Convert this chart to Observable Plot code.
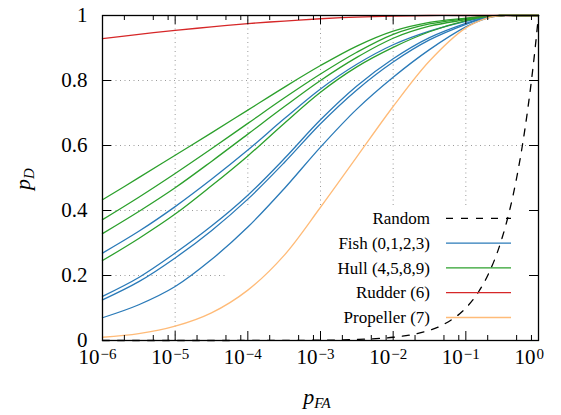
<!DOCTYPE html>
<html>
<head>
<meta charset="utf-8">
<script src="https://cdn.jsdelivr.net/npm/d3@7"></script>
<script src="https://cdn.jsdelivr.net/npm/@observablehq/plot@0.6"></script>
<style>
  html, body { margin: 0; padding: 0; background: white; }
  #chart { width: 561px; height: 415px; }
  #chart svg, #chart svg text { font-family: "Liberation Serif", "DejaVu Serif", serif !important; }
</style>
</head>
<body>
<div id="chart"></div>
<script>
// ---- data ----
const pfa = [1e-6, 3.16e-6, 1e-5, 3.16e-5, 1e-4, 3.16e-4, 1e-3, 3.16e-3, 1e-2, 3.16e-2, 1e-1, 0.2, 0.3, 0.5, 1];

const fish0 = [0.269, 0.336, 0.412, 0.496, 0.586, 0.682, 0.774, 0.850, 0.910, 0.952, 0.982, 0.996, 1, 1, 1];
const fish1 = [0.136, 0.194, 0.269, 0.352, 0.447, 0.559, 0.679, 0.783, 0.867, 0.932, 0.976, 0.995, 1, 1, 1];
const fish2 = [0.125, 0.181, 0.254, 0.338, 0.435, 0.547, 0.667, 0.771, 0.857, 0.925, 0.973, 0.995, 1, 1, 1];
const fish3 = [0.070, 0.110, 0.166, 0.249, 0.349, 0.467, 0.595, 0.712, 0.810, 0.895, 0.965, 0.993, 1, 1, 1];

const hull4 = [0.433, 0.501, 0.570, 0.639, 0.709, 0.779, 0.846, 0.906, 0.952, 0.979, 0.992, 0.999, 1, 1, 1];
const hull5 = [0.372, 0.441, 0.514, 0.590, 0.668, 0.746, 0.820, 0.887, 0.942, 0.974, 0.990, 0.998, 1, 1, 1];
const hull8 = [0.329, 0.397, 0.470, 0.551, 0.635, 0.719, 0.800, 0.871, 0.930, 0.967, 0.987, 0.998, 1, 1, 1];
const hull9 = [0.246, 0.314, 0.389, 0.476, 0.568, 0.668, 0.764, 0.842, 0.902, 0.950, 0.984, 0.997, 1, 1, 1];

const rudder6 = [0.929, 0.942, 0.954, 0.965, 0.975, 0.983, 0.990, 0.995, 0.998, 1, 1, 1, 1, 1, 1];
const propeller7 = [0.010, 0.021, 0.044, 0.085, 0.155, 0.262, 0.410, 0.565, 0.720, 0.860, 0.962, 0.993, 1, 1, 1];

const randomX = [1e-6, 1e-4, 1e-3, 3e-3, 1e-2, 2e-2, 5e-2, 0.1, 0.15, 0.2, 0.3, 0.4, 0.5, 0.6, 0.7, 0.8, 0.9, 1];
const randomY = [1e-6, 1e-4, 1e-3, 3e-3, 1e-2, 2e-2, 5e-2, 0.1, 0.15, 0.2, 0.3, 0.4, 0.5, 0.6, 0.7, 0.8, 0.9, 1];

const xTicks = [1e-6, 1e-5, 1e-4, 1e-3, 1e-2, 1e-1, 1];
const xTickExp = ["\u22126", "\u22125", "\u22124", "\u22123", "\u22122", "\u22121", "0"];
const xMinor = [2e-6, 5e-6, 8e-6, 2e-5, 5e-5, 8e-5, 2e-4, 5e-4, 8e-4, 2e-3, 5e-3, 8e-3, 2e-2, 5e-2, 8e-2, 2e-1, 5e-1, 8e-1];
const xGrid = [1e-5, 1e-4, 1e-3, 1e-2, 1e-1];
const yTicks = [0, 0.2, 0.4, 0.6, 0.8, 1];
const yTickLabels = ["0", "0.2", "0.4", "0.6", "0.8", "1"];
const yGrid = [0.2, 0.4, 0.6, 0.8];

const legendLabels = ["Random", "Fish (0,1,2,3)", "Hull (4,5,8,9)", "Rudder (6)", "Propeller (7)"];
const legendColors = ["#000000", "#2a7ab8", "#2ca02c", "#d62728", "#ffbb78"];

// area kept clear of grid lines behind the key (data units)
const keyArea = {x1: 5.4e-5, x2: 1, y1: 0, y2: 0.41};

// ---- build ----
const blue = legendColors[1], green = legendColors[2], red = legendColors[3], orange = legendColors[4];
const toRows = (ys) => pfa.map((x, i) => ({x, y: ys[i]}));
const randomRows = randomX.map((x, i) => ({x, y: randomY[i]}));

const lineOpts = (c) => ({x: "x", y: "y", stroke: c, strokeWidth: 1.3, curve: "catmull-rom"});
const grid = {stroke: "#9a9a9a", strokeWidth: 1, strokeDasharray: "1,3.5"};
const serif = "Liberation Serif, DejaVu Serif, serif";

const chart = Plot.plot({
  width: 561,
  height: 415,
  marginLeft: 102,
  marginRight: 23,
  marginTop: 15,
  marginBottom: 75,
  x: {type: "log", domain: [1e-6, 1], axis: null},
  y: {domain: [0, 1], axis: null},
  style: {fontFamily: serif, fontSize: "21px", background: "white", overflow: "visible"},
  marks: [
    Plot.ruleX(xGrid, {x: d => d, y1: 0, y2: 1, ...grid}),
    Plot.ruleY(yGrid, {y: d => d, x1: 1e-6, x2: 1, ...grid}),
    Plot.rect([keyArea], {x1: "x1", x2: "x2", y1: "y1", y2: "y2", fill: "white"}),
    Plot.line(randomRows, {x: "x", y: "y", stroke: "black", strokeWidth: 1.3, strokeDasharray: "7,8", curve: "monotone-x"}),
    Plot.line(toRows(fish0), lineOpts(blue)),
    Plot.line(toRows(fish1), lineOpts(blue)),
    Plot.line(toRows(fish2), lineOpts(blue)),
    Plot.line(toRows(fish3), lineOpts(blue)),
    Plot.line(toRows(hull4), lineOpts(green)),
    Plot.line(toRows(hull5), lineOpts(green)),
    Plot.line(toRows(hull8), lineOpts(green)),
    Plot.line(toRows(hull9), lineOpts(green)),
    Plot.line(toRows(rudder6), lineOpts(red)),
    Plot.line(toRows(propeller7), lineOpts(orange)),
    // inward ticks: bottom / top major and minor
    Plot.ruleX(xTicks, {x: d => d, y1: 0, y2: 0, insetTop: -9, stroke: "black", strokeWidth: 1}),
    Plot.ruleX(xTicks, {x: d => d, y1: 1, y2: 1, insetBottom: -9, stroke: "black", strokeWidth: 1}),
    Plot.ruleX(xMinor, {x: d => d, y1: 0, y2: 0, insetTop: -5, stroke: "black", strokeWidth: 1}),
    Plot.ruleX(xMinor, {x: d => d, y1: 1, y2: 1, insetBottom: -5, stroke: "black", strokeWidth: 1}),
    // inward ticks: left / right
    Plot.ruleY(yTicks, {y: d => d, x1: 1e-6, x2: 1e-6, insetRight: -9, stroke: "black", strokeWidth: 1}),
    Plot.ruleY(yTicks, {y: d => d, x1: 1, x2: 1, insetLeft: -9, stroke: "black", strokeWidth: 1}),
    Plot.frame({stroke: "black", strokeWidth: 1.3}),
    // tick labels
    Plot.text(yTicks, {y: d => d, text: (d, i) => yTickLabels[i], frameAnchor: "left", textAnchor: "end", dx: -15, fill: "black", fontSize: 21, fontFamily: serif}),
    Plot.text(xTicks, {x: d => d, text: () => "10", frameAnchor: "bottom", textAnchor: "end", dx: -3, dy: 23, fill: "black", fontSize: 21, fontFamily: serif}),
    Plot.text(xTicks, {x: d => d, text: (d, i) => xTickExp[i], frameAnchor: "bottom", textAnchor: "start", dx: -2, dy: 18, fill: "black", fontSize: 15, fontFamily: serif})
  ]
});

document.getElementById("chart").appendChild(chart);

// ---- key and axis titles ----
const svg = d3.select(chart);
const key = svg.append("g").attr("font-family", serif).attr("font-size", 17);
legendLabels.forEach((label, i) => {
  const y = 218.3 + i * 24.8;
  key.append("text").attr("x", 430).attr("y", y).attr("dy", "0.34em").attr("text-anchor", "end").attr("fill", "black").text(label);
  key.append("line").attr("x1", 446).attr("x2", 511).attr("y1", y).attr("y2", y)
    .attr("stroke", legendColors[i]).attr("stroke-width", 1.3)
    .attr("stroke-dasharray", i === 0 ? "7,8" : null);
});

const ylab = svg.append("text")
  .attr("transform", "translate(30,179) rotate(-90)")
  .attr("text-anchor", "middle")
  .attr("font-family", serif)
  .attr("font-style", "italic")
  .attr("fill", "black");
ylab.append("tspan").attr("font-size", 22).text("p");
ylab.append("tspan").attr("font-size", 15).attr("dy", 4).text("D");

const xlab = svg.append("text")
  .attr("x", 317).attr("y", 404)
  .attr("text-anchor", "middle")
  .attr("font-family", serif)
  .attr("font-style", "italic")
  .attr("fill", "black");
xlab.append("tspan").attr("font-size", 22).text("p");
xlab.append("tspan").attr("font-size", 15).attr("dy", 4).text("FA");
</script>
</body>
</html>
